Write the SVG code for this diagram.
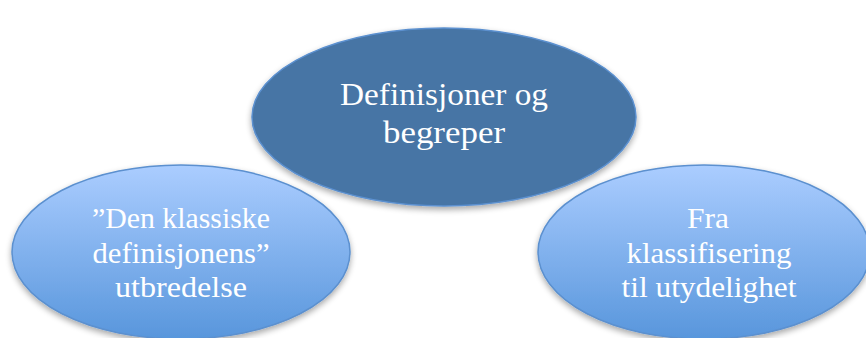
<svg xmlns="http://www.w3.org/2000/svg" width="866" height="338" viewBox="0 0 866 338">
<style>
.t{font-family:"Liberation Serif","DejaVu Serif",serif;fill:#ffffff;text-anchor:middle}
.top{font-size:32px}
.side{font-size:29px}
.e{stroke:#5b90cf;stroke-width:1.5}
</style>
<defs>
<linearGradient id="g" x1="0" y1="0" x2="0" y2="1">
<stop offset="0" stop-color="#abcdff"/>
<stop offset="1" stop-color="#5896dc"/>
</linearGradient>
<filter id="sh" x="-10%" y="-10%" width="120%" height="130%">
<feGaussianBlur in="SourceAlpha" stdDeviation="3"/>
<feOffset dy="3"/>
<feComponentTransfer><feFuncA type="linear" slope="0.35"/></feComponentTransfer>
<feMerge><feMergeNode/><feMergeNode in="SourceGraphic"/></feMerge>
</filter>
</defs>
<g id="connectors"></g>
<g id="node-left">
<ellipse class="e" cx="181" cy="252" rx="169" ry="87" fill="url(#g)" filter="url(#sh)"/>
<text class="t side" x="181" y="228" textLength="178" lengthAdjust="spacingAndGlyphs">”Den klassiske</text>
<text class="t side" x="181" y="263" textLength="177" lengthAdjust="spacingAndGlyphs">definisjonens”</text>
<text class="t side" x="181" y="297" textLength="132" lengthAdjust="spacingAndGlyphs">utbredelse</text>
</g>
<g id="node-right">
<ellipse class="e" cx="704" cy="252" rx="166" ry="87" fill="url(#g)" filter="url(#sh)"/>
<text class="t side" x="708" y="228" textLength="42" lengthAdjust="spacingAndGlyphs">Fra</text>
<text class="t side" x="709" y="263" textLength="165" lengthAdjust="spacingAndGlyphs">klassifisering</text>
<text class="t side" x="709" y="297" textLength="175" lengthAdjust="spacingAndGlyphs">til utydelighet</text>
</g>
<g id="node-top">
<ellipse class="e" cx="444" cy="117" rx="192" ry="89" fill="#4674a5" filter="url(#sh)"/>
<text class="t top" x="444" y="105" textLength="208" lengthAdjust="spacingAndGlyphs">Definisjoner og</text>
<text class="t top" x="444" y="143" textLength="122" lengthAdjust="spacingAndGlyphs">begreper</text>
</g>
</svg>
